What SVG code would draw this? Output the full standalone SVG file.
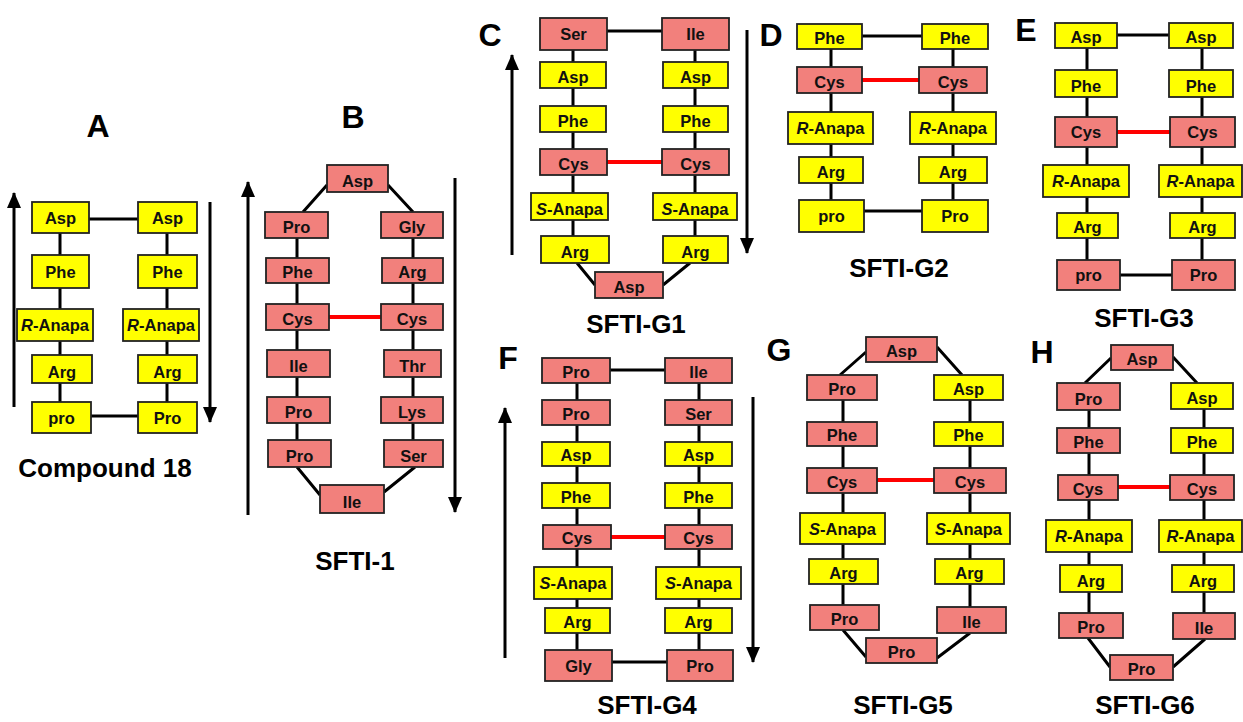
<svg xmlns="http://www.w3.org/2000/svg" width="1243" height="722" viewBox="0 0 1243 722">
<defs>
<style>
.y{fill:#FFFF00;stroke:#222;stroke-width:1.8}
.s{fill:#F2807C;stroke:#222;stroke-width:1.8}
.t{font-family:"Liberation Sans",Arial,sans-serif;font-weight:bold;font-size:16.5px;text-anchor:middle;fill:#111}
.c{stroke:#000;stroke-width:3;fill:none}
.ss{stroke:#FF0000;stroke-width:4;fill:none}
.ar{stroke:#000;stroke-width:3;fill:none;marker-end:url(#ah)}
.lb{font-family:"Liberation Sans",Arial,sans-serif;font-weight:bold;font-size:32px;text-anchor:middle;fill:#000}
.ti{font-family:"Liberation Sans",Arial,sans-serif;font-weight:bold;font-size:26px;text-anchor:middle;fill:#000}
</style>
<marker id="ah" viewBox="0 0 16 14" refX="15" refY="7" markerWidth="16" markerHeight="14" markerUnits="userSpaceOnUse" orient="auto"><path d="M0,0 L16,7 L0,14 z" fill="#000"/></marker>
</defs>
<rect width="1243" height="722" fill="#fff"/>

<g id="connectors">
<!-- A -->
<path class="c" d="M60,217V417 M167,217V417 M89,219H138 M91,416H138"/>
<line class="ar" x1="14" y1="407" x2="14" y2="193"/>
<line class="ar" x1="210" y1="202" x2="210" y2="422"/>
<!-- B -->
<path class="c" d="M297,225V453 M413,225V453 M303,212L327,185 M388,185L413,212 M297,467L320,495 M415,467L384,492"/>
<line class="ss" x1="329" y1="317" x2="381" y2="317"/>
<line class="ar" x1="248" y1="515" x2="248" y2="182"/>
<line class="ar" x1="455" y1="178" x2="455" y2="512"/>
<!-- C -->
<path class="c" d="M573,34V250 M695,34V250 M607,31H662 M577,263L595,285 M690,263L663,285"/>
<line class="ss" x1="607" y1="162" x2="662" y2="162"/>
<line class="ar" x1="512" y1="255" x2="512" y2="55"/>
<line class="ar" x1="747" y1="30" x2="747" y2="253"/>
<!-- D -->
<path class="c" d="M831,36V216 M953,36V216 M862,36H922 M864,211H922"/>
<line class="ss" x1="862" y1="80" x2="919" y2="80"/>
<!-- E -->
<path class="c" d="M1087,35V275 M1202,35V275 M1117,35H1169 M1120,275H1172"/>
<line class="ss" x1="1117" y1="132" x2="1170" y2="132"/>
<!-- F -->
<path class="c" d="M577,370V665 M699,370V665 M610,370H665 M612,662H667"/>
<line class="ss" x1="611" y1="537" x2="665" y2="537"/>
<line class="ar" x1="505" y1="658" x2="505" y2="408"/>
<line class="ar" x1="753" y1="397" x2="753" y2="662"/>
<!-- G -->
<path class="c" d="M843,387V617 M970,387V620 M840,375L866,352 M937,347L962,375 M843,630L866,657 M970,633L937,658"/>
<line class="ss" x1="877" y1="480" x2="934" y2="480"/>
<!-- H -->
<path class="c" d="M1089,396V626 M1204,396V626 M1085,383L1111,358 M1173,357L1197,383 M1088,638L1110,667 M1205,639L1173,667"/>
<line class="ss" x1="1118" y1="487" x2="1170" y2="487"/>
</g>

<!-- Panel A -->
<g id="A-L1"><rect class="y" x="32" y="202" width="57" height="31"/><text class="t" x="60.5" y="223.5">Asp</text></g>
<g id="A-L2"><rect class="y" x="32" y="255" width="57" height="33"/><text class="t" x="60.5" y="277.5">Phe</text></g>
<g id="A-L3"><rect class="y" x="17" y="309" width="76" height="32"/><text class="t" x="55" y="331"><tspan font-style="italic">R</tspan>-Anapa</text></g>
<g id="A-L4"><rect class="y" x="32" y="355" width="60" height="28"/><text class="t" x="62" y="378">Arg</text></g>
<g id="A-L5"><rect class="y" x="32" y="402" width="59" height="31"/><text class="t" x="61.5" y="423.5">pro</text></g>
<g id="A-R1"><rect class="y" x="138" y="202" width="59" height="31"/><text class="t" x="167.5" y="223.5">Asp</text></g>
<g id="A-R2"><rect class="y" x="138" y="255" width="59" height="33"/><text class="t" x="167.5" y="277.5">Phe</text></g>
<g id="A-R3"><rect class="y" x="123" y="309" width="76" height="32"/><text class="t" x="161" y="331"><tspan font-style="italic">R</tspan>-Anapa</text></g>
<g id="A-R4"><rect class="y" x="138" y="355" width="59" height="28"/><text class="t" x="167.5" y="378">Arg</text></g>
<g id="A-R5"><rect class="y" x="138" y="402" width="59" height="31"/><text class="t" x="167.5" y="423.5">Pro</text></g>

<!-- Panel B -->
<g id="B-top"><rect class="s" x="327" y="165" width="61" height="27"/><text class="t" x="357.5" y="187">Asp</text></g>
<g id="B-L1"><rect class="s" x="265" y="212" width="63" height="26"/><text class="t" x="296.5" y="233">Pro</text></g>
<g id="B-L2"><rect class="s" x="266" y="258" width="63" height="25"/><text class="t" x="297.5" y="278">Phe</text></g>
<g id="B-L3"><rect class="s" x="266" y="304" width="63" height="26"/><text class="t" x="297.5" y="325">Cys</text></g>
<g id="B-L4"><rect class="s" x="267" y="350" width="63" height="27"/><text class="t" x="298.5" y="372">Ile</text></g>
<g id="B-L5"><rect class="s" x="267" y="397" width="63" height="26"/><text class="t" x="298.5" y="418">Pro</text></g>
<g id="B-L6"><rect class="s" x="268" y="440" width="63" height="27"/><text class="t" x="299.5" y="462">Pro</text></g>
<g id="B-bot"><rect class="s" x="320" y="485" width="64" height="28"/><text class="t" x="352" y="508">Ile</text></g>
<g id="B-R1"><rect class="s" x="381" y="212" width="62" height="26"/><text class="t" x="412" y="233">Gly</text></g>
<g id="B-R2"><rect class="s" x="382" y="258" width="61" height="25"/><text class="t" x="412.5" y="278">Arg</text></g>
<g id="B-R3"><rect class="s" x="381" y="304" width="62" height="26"/><text class="t" x="412" y="325">Cys</text></g>
<g id="B-R4"><rect class="s" x="384" y="350" width="57" height="27"/><text class="t" x="412.5" y="372">Thr</text></g>
<g id="B-R5"><rect class="s" x="381" y="397" width="62" height="26"/><text class="t" x="412" y="418">Lys</text></g>
<g id="B-R6"><rect class="s" x="384" y="440" width="59" height="27"/><text class="t" x="413.5" y="462">Ser</text></g>

<!-- Panel C -->
<g id="C-L1"><rect class="s" x="540" y="18" width="67" height="32"/><text class="t" x="573.5" y="40">Ser</text></g>
<g id="C-L2"><rect class="y" x="540" y="62" width="66" height="26"/><text class="t" x="573" y="83">Asp</text></g>
<g id="C-L3"><rect class="y" x="540" y="106" width="66" height="26"/><text class="t" x="573" y="127">Phe</text></g>
<g id="C-L4"><rect class="s" x="540" y="149" width="67" height="26"/><text class="t" x="573.5" y="170">Cys</text></g>
<g id="C-L5"><rect class="y" x="531" y="193" width="77" height="27"/><text class="t" x="569.5" y="215"><tspan font-style="italic">S</tspan>-Anapa</text></g>
<g id="C-L6"><rect class="y" x="541" y="236" width="68" height="27"/><text class="t" x="575" y="258">Arg</text></g>
<g id="C-bot"><rect class="s" x="595" y="272" width="68" height="26"/><text class="t" x="629" y="293">Asp</text></g>
<g id="C-R1"><rect class="s" x="662" y="18" width="67" height="32"/><text class="t" x="695.5" y="40">Ile</text></g>
<g id="C-R2"><rect class="y" x="663" y="62" width="65" height="26"/><text class="t" x="695.5" y="83">Asp</text></g>
<g id="C-R3"><rect class="y" x="663" y="106" width="65" height="26"/><text class="t" x="695.5" y="127">Phe</text></g>
<g id="C-R4"><rect class="s" x="662" y="149" width="67" height="26"/><text class="t" x="695.5" y="170">Cys</text></g>
<g id="C-R5"><rect class="y" x="653" y="193" width="84" height="27"/><text class="t" x="695" y="215"><tspan font-style="italic">S</tspan>-Anapa</text></g>
<g id="C-R6"><rect class="y" x="663" y="236" width="65" height="27"/><text class="t" x="695.5" y="258">Arg</text></g>

<!-- Panel D -->
<g id="D-L1"><rect class="y" x="797" y="24" width="65" height="25"/><text class="t" x="829.5" y="44">Phe</text></g>
<g id="D-L2"><rect class="s" x="797" y="67" width="65" height="26"/><text class="t" x="829.5" y="88">Cys</text></g>
<g id="D-L3"><rect class="y" x="788" y="112" width="85" height="32"/><text class="t" x="830.5" y="134"><tspan font-style="italic">R</tspan>-Anapa</text></g>
<g id="D-L4"><rect class="y" x="799" y="157" width="64" height="26"/><text class="t" x="831" y="178">Arg</text></g>
<g id="D-L5"><rect class="y" x="799" y="200" width="65" height="32"/><text class="t" x="831.5" y="222">pro</text></g>
<g id="D-R1"><rect class="y" x="922" y="24" width="66" height="25"/><text class="t" x="955" y="44">Phe</text></g>
<g id="D-R2"><rect class="s" x="919" y="67" width="68" height="26"/><text class="t" x="953" y="88">Cys</text></g>
<g id="D-R3"><rect class="y" x="910" y="112" width="86" height="32"/><text class="t" x="953" y="134"><tspan font-style="italic">R</tspan>-Anapa</text></g>
<g id="D-R4"><rect class="y" x="919" y="157" width="68" height="26"/><text class="t" x="953" y="178">Arg</text></g>
<g id="D-R5"><rect class="y" x="922" y="200" width="66" height="32"/><text class="t" x="955" y="222">Pro</text></g>

<!-- Panel E -->
<g id="E-L1"><rect class="y" x="1055" y="23" width="62" height="25"/><text class="t" x="1086" y="43">Asp</text></g>
<g id="E-L2"><rect class="y" x="1055" y="70" width="62" height="27"/><text class="t" x="1086" y="92">Phe</text></g>
<g id="E-L3"><rect class="s" x="1055" y="117" width="62" height="30"/><text class="t" x="1086" y="138">Cys</text></g>
<g id="E-L4"><rect class="y" x="1043" y="165" width="86" height="32"/><text class="t" x="1086" y="187"><tspan font-style="italic">R</tspan>-Anapa</text></g>
<g id="E-L5"><rect class="y" x="1057" y="213" width="61" height="25"/><text class="t" x="1087.5" y="233">Arg</text></g>
<g id="E-L6"><rect class="s" x="1057" y="260" width="63" height="30"/><text class="t" x="1088.5" y="281">pro</text></g>
<g id="E-R1"><rect class="y" x="1169" y="23" width="64" height="25"/><text class="t" x="1201" y="43">Asp</text></g>
<g id="E-R2"><rect class="y" x="1169" y="70" width="64" height="27"/><text class="t" x="1201" y="92">Phe</text></g>
<g id="E-R3"><rect class="s" x="1170" y="117" width="65" height="30"/><text class="t" x="1202.5" y="138">Cys</text></g>
<g id="E-R4"><rect class="y" x="1159" y="165" width="83" height="32"/><text class="t" x="1200.5" y="187"><tspan font-style="italic">R</tspan>-Anapa</text></g>
<g id="E-R5"><rect class="y" x="1170" y="213" width="65" height="25"/><text class="t" x="1202.5" y="233">Arg</text></g>
<g id="E-R6"><rect class="s" x="1172" y="260" width="63" height="30"/><text class="t" x="1203.5" y="281">Pro</text></g>

<!-- Panel F -->
<g id="F-L1"><rect class="s" x="542" y="358" width="68" height="25"/><text class="t" x="576" y="378">Pro</text></g>
<g id="F-L2"><rect class="s" x="542" y="400" width="68" height="25"/><text class="t" x="576" y="420">Pro</text></g>
<g id="F-L3"><rect class="y" x="542" y="442" width="68" height="24"/><text class="t" x="576" y="461">Asp</text></g>
<g id="F-L4"><rect class="y" x="542" y="483" width="68" height="25"/><text class="t" x="576" y="503">Phe</text></g>
<g id="F-L5"><rect class="s" x="543" y="525" width="68" height="24"/><text class="t" x="577" y="544">Cys</text></g>
<g id="F-L6"><rect class="y" x="534" y="567" width="78" height="32"/><text class="t" x="573" y="589"><tspan font-style="italic">S</tspan>-Anapa</text></g>
<g id="F-L7"><rect class="y" x="545" y="608" width="65" height="25"/><text class="t" x="577.5" y="628">Arg</text></g>
<g id="F-L8"><rect class="s" x="545" y="650" width="67" height="31"/><text class="t" x="578.5" y="671.5">Gly</text></g>
<g id="F-R1"><rect class="s" x="665" y="358" width="67" height="25"/><text class="t" x="698.5" y="378">Ile</text></g>
<g id="F-R2"><rect class="s" x="665" y="400" width="67" height="25"/><text class="t" x="698.5" y="420">Ser</text></g>
<g id="F-R3"><rect class="y" x="665" y="442" width="67" height="24"/><text class="t" x="698.5" y="461">Asp</text></g>
<g id="F-R4"><rect class="y" x="665" y="483" width="67" height="25"/><text class="t" x="698.5" y="503">Phe</text></g>
<g id="F-R5"><rect class="s" x="665" y="525" width="67" height="24"/><text class="t" x="698.5" y="544">Cys</text></g>
<g id="F-R6"><rect class="y" x="656" y="567" width="85" height="32"/><text class="t" x="698.5" y="589"><tspan font-style="italic">S</tspan>-Anapa</text></g>
<g id="F-R7"><rect class="y" x="665" y="608" width="67" height="25"/><text class="t" x="698.5" y="628">Arg</text></g>
<g id="F-R8"><rect class="s" x="667" y="650" width="66" height="31"/><text class="t" x="700" y="671.5">Pro</text></g>

<!-- Panel G -->
<g id="G-top"><rect class="s" x="866" y="337" width="71" height="25"/><text class="t" x="901.5" y="357">Asp</text></g>
<g id="G-L1"><rect class="s" x="807" y="375" width="70" height="25"/><text class="t" x="842" y="395">Pro</text></g>
<g id="G-L2"><rect class="s" x="807" y="422" width="70" height="24"/><text class="t" x="842" y="441">Phe</text></g>
<g id="G-L3"><rect class="s" x="807" y="468" width="70" height="25"/><text class="t" x="842" y="488">Cys</text></g>
<g id="G-L4"><rect class="y" x="800" y="513" width="85" height="31"/><text class="t" x="842.5" y="534.5"><tspan font-style="italic">S</tspan>-Anapa</text></g>
<g id="G-L5"><rect class="y" x="809" y="559" width="69" height="25"/><text class="t" x="843.5" y="579">Arg</text></g>
<g id="G-L6"><rect class="s" x="810" y="605" width="69" height="25"/><text class="t" x="844.5" y="625">Pro</text></g>
<g id="G-bot"><rect class="s" x="866" y="638" width="71" height="25"/><text class="t" x="901.5" y="658">Pro</text></g>
<g id="G-R1"><rect class="y" x="934" y="375" width="69" height="25"/><text class="t" x="968.5" y="395">Asp</text></g>
<g id="G-R2"><rect class="y" x="934" y="422" width="69" height="24"/><text class="t" x="968.5" y="441">Phe</text></g>
<g id="G-R3"><rect class="s" x="934" y="468" width="72" height="25"/><text class="t" x="970" y="488">Cys</text></g>
<g id="G-R4"><rect class="y" x="927" y="513" width="83" height="31"/><text class="t" x="968.5" y="534.5"><tspan font-style="italic">S</tspan>-Anapa</text></g>
<g id="G-R5"><rect class="y" x="935" y="559" width="69" height="25"/><text class="t" x="969.5" y="579">Arg</text></g>
<g id="G-R6"><rect class="s" x="937" y="607" width="69" height="26"/><text class="t" x="971.5" y="628">Ile</text></g>

<!-- Panel H -->
<g id="H-top"><rect class="s" x="1111" y="345" width="62" height="25"/><text class="t" x="1142" y="365">Asp</text></g>
<g id="H-L1"><rect class="s" x="1057" y="383" width="63" height="27"/><text class="t" x="1088.5" y="405">Pro</text></g>
<g id="H-L2"><rect class="s" x="1057" y="428" width="63" height="25"/><text class="t" x="1088.5" y="448">Phe</text></g>
<g id="H-L3"><rect class="s" x="1058" y="475" width="60" height="25"/><text class="t" x="1088" y="495">Cys</text></g>
<g id="H-L4"><rect class="y" x="1046" y="520" width="86" height="32"/><text class="t" x="1089" y="542"><tspan font-style="italic">R</tspan>-Anapa</text></g>
<g id="H-L5"><rect class="y" x="1060" y="565" width="62" height="27"/><text class="t" x="1091" y="587">Arg</text></g>
<g id="H-L6"><rect class="s" x="1059" y="613" width="64" height="25"/><text class="t" x="1091" y="633">Pro</text></g>
<g id="H-bot"><rect class="s" x="1110" y="655" width="63" height="25"/><text class="t" x="1141.5" y="675">Pro</text></g>
<g id="H-R1"><rect class="y" x="1171" y="383" width="62" height="26"/><text class="t" x="1202" y="404">Asp</text></g>
<g id="H-R2"><rect class="y" x="1171" y="428" width="62" height="25"/><text class="t" x="1202" y="448">Phe</text></g>
<g id="H-R3"><rect class="s" x="1170" y="475" width="64" height="25"/><text class="t" x="1202" y="495">Cys</text></g>
<g id="H-R4"><rect class="y" x="1159" y="520" width="83" height="32"/><text class="t" x="1200.5" y="542"><tspan font-style="italic">R</tspan>-Anapa</text></g>
<g id="H-R5"><rect class="y" x="1172" y="565" width="62" height="27"/><text class="t" x="1203" y="587">Arg</text></g>
<g id="H-R6"><rect class="s" x="1173" y="613" width="62" height="26"/><text class="t" x="1204" y="634">Ile</text></g>

<!-- Panel letters -->
<g id="labels">
<text class="lb" x="98" y="137">A</text>
<text class="lb" x="353" y="128">B</text>
<text class="lb" x="490" y="46">C</text>
<text class="lb" x="771" y="46">D</text>
<text class="lb" x="1026" y="41">E</text>
<text class="lb" x="508" y="369">F</text>
<text class="lb" x="779" y="361">G</text>
<text class="lb" x="1042" y="363">H</text>
</g>

<!-- Titles -->
<g id="titles">
<text class="ti" x="105" y="477">Compound 18</text>
<text class="ti" x="355" y="570">SFTI-1</text>
<text class="ti" x="636" y="333">SFTI-G1</text>
<text class="ti" x="899" y="277">SFTI-G2</text>
<text class="ti" x="1144" y="327">SFTI-G3</text>
<text class="ti" x="647" y="714">SFTI-G4</text>
<text class="ti" x="903" y="714">SFTI-G5</text>
<text class="ti" x="1145" y="714">SFTI-G6</text>
</g>
</svg>
